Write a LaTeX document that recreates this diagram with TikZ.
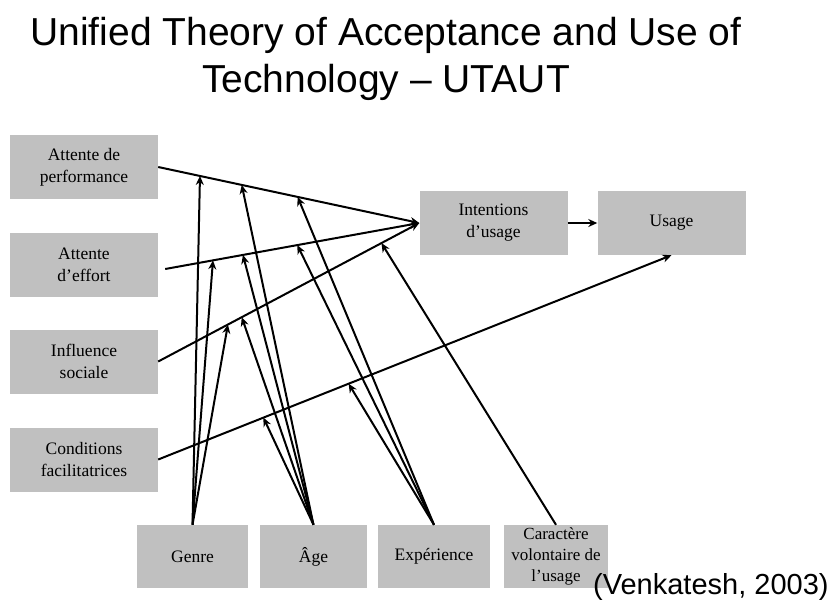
\documentclass[tikz,border=0pt]{standalone}
\usepackage{fontspec}
\setmainfont{Liberation Serif}
\newfontfamily\arialfont{Liberation Sans}
\usetikzlibrary{arrows.meta,calc}
\definecolor{boxgray}{RGB}{192,192,192}
\begin{document}
\begin{tikzpicture}[x=1pt,y=-1pt,
  box/.style={fill=boxgray, draw=none, inner sep=0pt, align=center,
    font=\fontsize{17.5}{22}\selectfont},
  sidebox/.style={box, minimum width=148pt, minimum height=64pt},
  modbox/.style={box, minimum height=63pt},
  link/.style={line width=2pt, -{Stealth[length=9pt,width=8pt]}}]
\useasboundingbox (0,0) rectangle (839,606);

% title
\node[font=\arialfont\fontsize{39}{47}\selectfont, anchor=base] (t1) at (386,45) {Unified Theory of Acceptance and Use of};
\node[font=\arialfont\fontsize{39}{47}\selectfont, anchor=base] (t2) at (386,92) {Technology – UTAUT};

% left boxes
\node[sidebox] (perf) at (84,167) {Attente de\\performance};
\node[sidebox] (eff) at (84,265) {Attente\\d’effort};
\node[sidebox] (inf) at (84,361.5) {Influence\\sociale};
\node[sidebox] (cond) at (84,459.5) {Conditions\\facilitatrices};

% right boxes
\node[sidebox] (int) at (493.5,223) {Intentions\\d’usage};
\node[sidebox] (use) at (671.5,223) {Usage};

% moderators
\node[modbox, minimum width=111pt] (genre) at (192.5,556.5) {Genre};
\node[modbox, minimum width=107pt] (age) at (313.5,556.5) {Âge};
\node[modbox, minimum width=112pt] (exp) at (434,556.5) {Expérience};
\node[modbox, minimum width=104pt, font=\fontsize{17}{21}\selectfont] (car) at (556,556.5) {Caractère\\volontaire de\\l’usage};

% citation
\node[font=\arialfont\fontsize{29}{34}\selectfont, anchor=base west, inner sep=0pt] (cite) at (593,594) {(Venkatesh, 2003)};

% main paths
\coordinate (eS) at ($(eff.east)+(7,4)$);
\draw[link] (perf.east) -- (int.west);
\draw[link] (eS) -- (int.west);
\draw[link] (inf.east) -- (int.west);
\draw[link] (cond.east) -- (use.south);
\draw[link] (int.east) -- (use.west);

% moderation targets
\coordinate (p1) at ($(perf.east)!0.16!(int.west)$);
\coordinate (p2) at ($(perf.east)!0.32!(int.west)$);
\coordinate (p3) at ($(perf.east)!0.534!(int.west)$);
\coordinate (e1) at ($(eS)!0.188!(int.west)$);
\coordinate (e2) at ($(eS)!0.306!(int.west)$);
\coordinate (e3) at ($(eS)!0.52!(int.west)$);
\coordinate (i1) at ($(inf.east)!0.267!(int.west)$);
\coordinate (i2) at ($(inf.east)!0.32!(int.west)$);
\coordinate (i3) at ($(inf.east)!0.855!(int.west)$);
\coordinate (c1) at ($(cond.east)!0.205!(use.south)$);
\coordinate (c2) at ($(cond.east)!0.371!(use.south)$);

% Genre
\draw[link] (genre.north) -- (p1);
\draw[link] (genre.north) -- (e1);
\draw[link] (genre.north) -- (i1);
% Age
\draw[link] (age.north) -- (p2);
\draw[link] (age.north) -- (e2);
\draw[link] (age.north) -- (i2);
\draw[link] (age.north) -- (c1);
% Experience
\draw[link] (exp.north) -- (p3);
\draw[link] (exp.north) -- (e3);
\draw[link] (exp.north) -- (c2);
% Voluntariness
\draw[link] (car.north) -- (i3);
\end{tikzpicture}
\end{document}
